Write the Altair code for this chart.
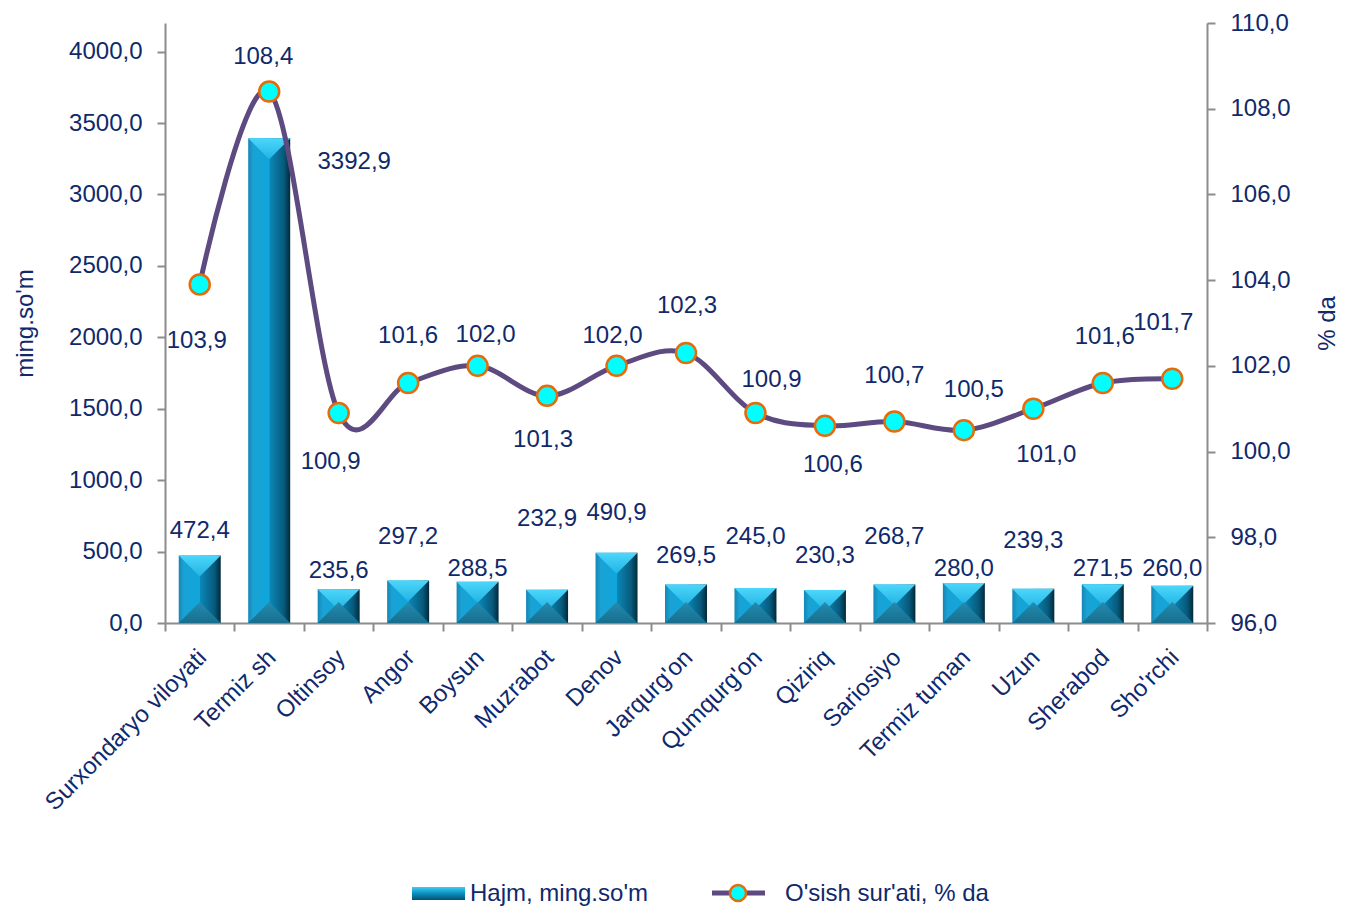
import altair as alt
import pandas as pd

categories = ["Surxondaryo viloyati", "Termiz sh", "Oltinsoy", "Angor", "Boysun",
              "Muzrabot", "Denov", "Jarqurg'on", "Qumqurg'on", "Qiziriq",
              "Sariosiyo", "Termiz tuman", "Uzun", "Sherabod", "Sho'rchi"]
volume = [472.4, 3392.9, 235.6, 297.2, 288.5, 232.9, 490.9, 269.5, 245.0, 230.3,
          268.7, 280.0, 239.3, 271.5, 260.0]
growth = [103.9, 108.4, 100.9, 101.6, 102.0, 101.3, 102.0, 102.3, 100.9, 100.6,
          100.7, 100.5, 101.0, 101.6, 101.7]
left_ticks = [0, 500, 1000, 1500, 2000, 2500, 3000, 3500, 4000]
right_ticks = [96, 98, 100, 102, 104, 106, 108, 110]
series_names = ["Hajm, ming.so'm", "O'sish sur'ati, % da"]

# label placement offsets in pixels (styling)
bar_lab_dx = [0, 85, 0, 0, 0, 0, 0, 0, 0, 0, 0, 0, 0, 0, 0]
bar_lab_dy = [-25, 24, -18, -44, -13, -71, -40, -29, -51, -34, -48, -14, -48, -15, -17]
line_lab_dx = [-3, -6, -8, 0, 8, -4, -4, 1, 16, 8, 0, 10, 13, 2, -9]
line_lab_dy = [57, -35, 49, -47, -31, 44, -30, -47, -33, 39, -46, -40, 46, -46, -56]

NAVY = "#10296b"
FONT = "Liberation Sans"
FS = 24

df = pd.DataFrame({"cat": categories, "volume": volume, "growth": growth})
df["vlab"] = [f"{v:.1f}".replace(".", ",") for v in volume]
df["glab"] = [f"{v:.1f}".replace(".", ",") for v in growth]
df["zero"] = 0.0

fmt = "replace(format(datum.value, '.1f'), '.', ',')"

xenc = alt.X("cat:N", sort=categories, title=None,
             scale=alt.Scale(paddingInner=0, paddingOuter=0),
             axis=alt.Axis(labelAngle=-45, labelAlign="right", labelBaseline="top",
                           labelPadding=14, labelOffset=-6, tickBand="extent",
                           labelLimit=400))

yleft_scale = alt.Scale(domain=[0, 4200], nice=False, zero=True)
yright_scale = alt.Scale(domain=[96, 110], nice=False, zero=False)
axis_left = alt.Axis(values=left_ticks, labelExpr=fmt, orient="left",
                     labelPadding=15, titlePadding=31)
axis_right = alt.Axis(values=right_ticks, labelExpr=fmt, orient="right",
                      labelPadding=15, titlePadding=49, titleAngle=270)


def yl(field):
    return alt.Y(field, type="quantitative", scale=yleft_scale, title="ming.so'm", axis=axis_left)


def yr(field):
    return alt.Y(field, type="quantitative", scale=yright_scale, title="% da", axis=axis_right)


base = alt.Chart(df)

bar_grad = alt.Gradient(gradient="linear", x1=0, x2=1, y1=0, y2=0, stops=[
    alt.GradientStop(color="#1786b4", offset=0),
    alt.GradientStop(color="#1aa2d4", offset=0.12),
    alt.GradientStop(color="#0fa6dc", offset=0.5),
    alt.GradientStop(color="#0b86b6", offset=0.52),
    alt.GradientStop(color="#075a7c", offset=0.85),
    alt.GradientStop(color="#02293a", offset=1),
])
top_grad = alt.Gradient(gradient="linear", x1=0, x2=0, y1=0, y2=1, stops=[
    alt.GradientStop(color="#4cd6fa", offset=0),
    alt.GradientStop(color="#22b4e4", offset=1),
])
bot_grad = alt.Gradient(gradient="linear", x1=0, x2=0, y1=0, y2=1, stops=[
    alt.GradientStop(color="#238cb0", offset=0),
    alt.GradientStop(color="#176e8e", offset=1),
])

bars = base.mark_bar(size=42, color=bar_grad).encode(x=xenc, y=yl("volume"))
tri_top = base.mark_point(shape="M-1,0L1,0L0,1Z", size=1764, filled=True,
                          fill=top_grad, strokeWidth=0, opacity=1).encode(
    x=xenc, y=yl("volume"))
tri_bot = base.mark_point(shape="M-1,0L1,0L0,-1Z", size=1764, filled=True,
                          fill=bot_grad, strokeWidth=0, opacity=1).encode(
    x=xenc, y=yl("zero"))

bar_label_layers = []
for i, c in enumerate(categories):
    bar_label_layers.append(
        base.transform_filter(alt.datum.cat == c).mark_text(
            font=FONT, fontSize=FS, color=NAVY, baseline="middle", align="center",
            dx=bar_lab_dx[i], dy=bar_lab_dy[i]).encode(
            x=xenc, y=yl("volume"), text="vlab:N"))

left = alt.layer(bars, tri_top, tri_bot, *bar_label_layers)

line = base.mark_line(interpolate="cardinal", color="#5d4a80", strokeWidth=5).encode(
    x=xenc, y=yr("growth"))
points = base.mark_point(filled=True, size=400, fill="#00ffff", stroke="#e46c0a",
                         strokeWidth=2.5, opacity=1).encode(x=xenc, y=yr("growth"))
line_label_layers = []
for i, c in enumerate(categories):
    line_label_layers.append(
        base.transform_filter(alt.datum.cat == c).mark_text(
            font=FONT, fontSize=FS, color=NAVY, baseline="middle", align="center",
            dx=line_lab_dx[i], dy=line_lab_dy[i]).encode(
            x=xenc, y=yr("growth"), text="glab:N"))

# legend (bottom, centered)
leg_df = pd.DataFrame({"name": series_names})
leg_grad = alt.Gradient(gradient="linear", x1=0, x2=0, y1=0, y2=1, stops=[
    alt.GradientStop(color="#40cdf4", offset=0),
    alt.GradientStop(color="#0e94c6", offset=0.45),
    alt.GradientStop(color="#06506e", offset=1),
])
lc = alt.Chart(leg_df)
leg_bar = lc.transform_filter(alt.datum.name == series_names[0]).mark_rect(
    fill=leg_grad).encode(x=alt.value(247), x2=alt.value(300), y=alt.value(864), y2=alt.value(877))
leg_t1 = lc.transform_filter(alt.datum.name == series_names[0]).mark_text(
    font=FONT, fontSize=FS, color=NAVY, align="left", baseline="middle").encode(
    x=alt.value(305), y=alt.value(871), text="name:N")
leg_line = lc.transform_filter(alt.datum.name == series_names[1]).mark_rule(
    color="#5d4a80", strokeWidth=5).encode(x=alt.value(547), x2=alt.value(600), y=alt.value(870))
leg_pt = lc.transform_filter(alt.datum.name == series_names[1]).mark_point(
    filled=True, size=260, fill="#00ffff", stroke="#e46c0a", strokeWidth=2.5, opacity=1).encode(
    x=alt.value(573), y=alt.value(870))
leg_t2 = lc.transform_filter(alt.datum.name == series_names[1]).mark_text(
    font=FONT, fontSize=FS, color=NAVY, align="left", baseline="middle").encode(
    x=alt.value(620), y=alt.value(871), text="name:N")

right = alt.layer(line, points, *line_label_layers)
legend = alt.layer(leg_bar, leg_t1, leg_line, leg_pt, leg_t2)

chart = alt.layer(left, right, legend).resolve_scale(y="independent").properties(
    width=1042, height=600,
    padding={"left": 157, "top": 15, "right": 133, "bottom": 285},
    autosize=alt.AutoSizeParams(type="none"),
).configure_view(stroke=None).configure_axis(
    grid=False, labelFont=FONT, labelFontSize=FS, labelColor=NAVY,
    titleFont=FONT, titleFontSize=FS, titleFontWeight="normal", titleColor=NAVY,
    domainColor="#8c8c8c", domainWidth=2, tickColor="#8c8c8c", tickWidth=2, tickSize=8,
)

chart.save("out.html", embed_options={"renderer": "svg", "actions": False})
